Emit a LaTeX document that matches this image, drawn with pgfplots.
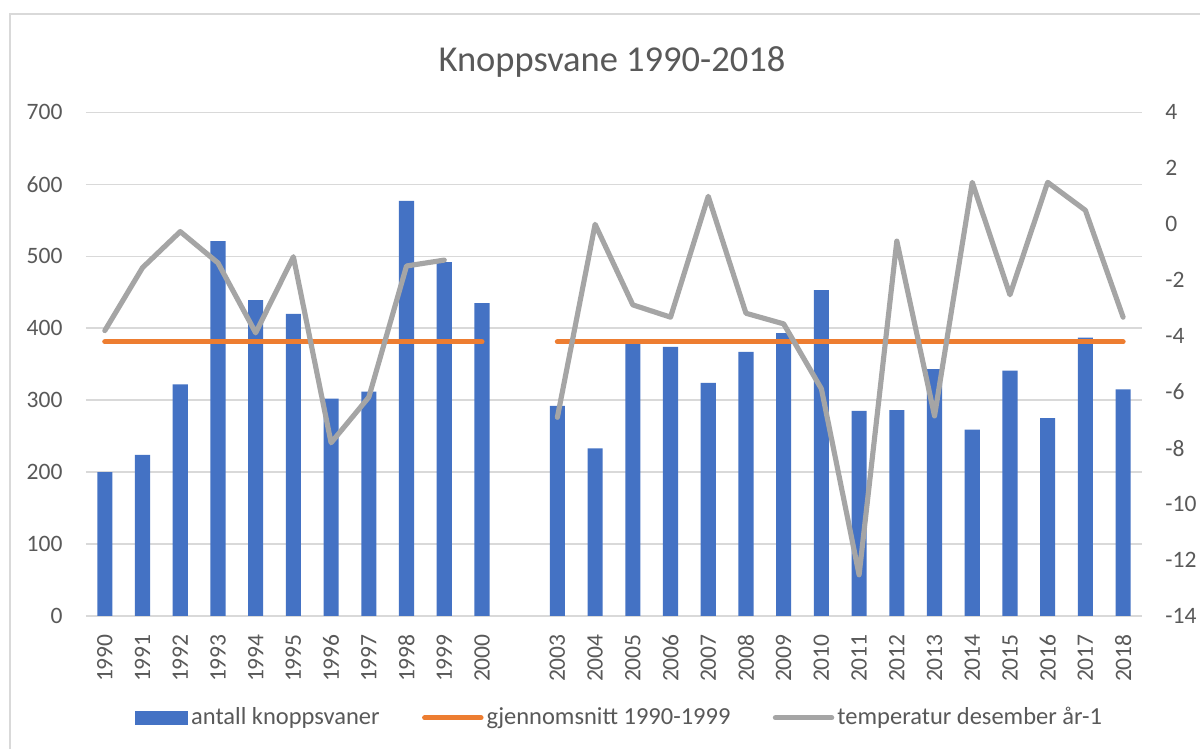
\documentclass[border=0pt]{standalone}
\usepackage{fontspec}
\setmainfont{Carlito}
\usepackage{pgfplots}
\usepackage{pgfplotstable}
\pgfplotsset{compat=1.18}
\definecolor{cblue}{HTML}{4472C4}
\definecolor{corange}{HTML}{ED7D31}
\definecolor{cgray}{HTML}{A5A5A5}
\definecolor{ctext}{HTML}{595959}
\definecolor{cgrid}{HTML}{D9D9D9}

\pgfplotstableread{
x birds temp avg
0 200 -3.80 381
1 224 -1.55 381
2 322 -0.26 381
3 521 -1.38 381
4 439 -3.88 381
5 420 -1.16 381
6 302 -7.81 381
7 312 -6.18 381
8 577 -1.49 381
9 492 -1.28 381
10 435 nan 381
11 nan nan nan
12 292 -6.90 381
13 233 0.00 381
14 378 -2.88 381
15 374 -3.32 381
16 324 1.00 381
17 367 -3.18 381
18 393 -3.56 381
19 453 -5.88 381
20 285 -12.53 381
21 286 -0.60 381
22 343 -6.85 381
23 259 1.50 381
24 341 -2.52 381
25 275 1.50 381
26 387 0.50 381
27 315 -3.32 381
}\data

\newcommand\tickfont{\fontsize{9.6}{11.5}\selectfont}
\newcommand\legfont{\fontsize{10}{12}\selectfont}

\begin{document}
\begin{tikzpicture}
\useasboundingbox (0,0) rectangle (490pt,305.8pt);
\fill[white] (0,0) rectangle (490pt,305.8pt);
\draw[cgrid, line width=0.8pt] (4.1pt,-1pt) -- (4.1pt,300.1pt) -- (491pt,300.1pt);
\node[text=ctext, font=\fontsize{14.9}{18}\selectfont] at (249.9pt,280.5pt) {Knoppsvane 1990-2018};

\begin{axis}[
  at={(35.1pt,54.3pt)}, anchor=south west,
  scale only axis, width=431.2pt, height=205.6pt,
  xmin=-0.5, xmax=27.5, ymin=0, ymax=700,
  axis lines*=left, axis line style={draw=none},
  tick style={draw=none},
  xtick={0,1,2,3,4,5,6,7,8,9,10,12,13,14,15,16,17,18,19,20,21,22,23,24,25,26,27},
  xticklabels={1990,1991,1992,1993,1994,1995,1996,1997,1998,1999,2000,2003,2004,2005,2006,2007,2008,2009,2010,2011,2012,2013,2014,2015,2016,2017,2018},
  ytick={0,100,200,300,400,500,600,700},
  yticklabels={0,100,200,300,400,500,600,700},
  every tick label/.append style={font=\tickfont, text=ctext},
  xticklabel style={rotate=90, anchor=east, inner sep=0pt},
  xticklabel shift=7.3pt,
  yticklabel style={anchor=east, inner sep=0pt},
  yticklabel shift=9.4pt,
  ymajorgrids, grid style={cgrid, line width=0.6pt},
  unbounded coords=jump,
  legend image code/.code={\draw[#1] (0pt,0pt) -- (23pt,0pt);},
  legend columns=3,
  legend style={at={(0.5058,-0.2023)}, anchor=center, draw=none, fill=none,
    font=\legfont, text=ctext,
    /tikz/every even column/.append style={column sep=16pt},
    nodes={inner xsep=1.3pt}},
]
\addplot[ybar, bar width=0.4, fill=cblue, draw=none,
  legend image code/.code={\fill[cblue] (0pt,-2.9pt) rectangle (21.6pt,2.9pt);}]
  table[x=x, y=birds] {\data};
\addlegendentry{antall knoppsvaner}
\addplot[corange, line width=2.1pt, line cap=round, no markers]
  table[x=x, y=avg] {\data};
\addlegendentry{gjennomsnitt 1990-1999}
\addlegendimage{cgray, line width=2.1pt, line cap=round}
\addlegendentry{temperatur desember år-1}
\end{axis}

\begin{axis}[
  at={(35.1pt,54.3pt)}, anchor=south west,
  scale only axis, width=431.2pt, height=205.6pt,
  xmin=-0.5, xmax=27.5, ymin=-14, ymax=4,
  axis x line=none, axis y line*=right, axis line style={draw=none},
  tick style={draw=none},
  ytick={-14,-12,-10,-8,-6,-4,-2,0,2,4},
  yticklabels={-14,-12,-10,-8,-6,-4,-2,0,2,4},
  every tick label/.append style={font=\tickfont, text=ctext},
  yticklabel style={anchor=west, inner sep=0pt},
  yticklabel shift=9.4pt,
  unbounded coords=jump,
]
\addplot[cgray, line width=2.1pt, line cap=round, line join=round, no markers]
  table[x=x, y=temp] {\data};
\end{axis}
\end{tikzpicture}
\end{document}
